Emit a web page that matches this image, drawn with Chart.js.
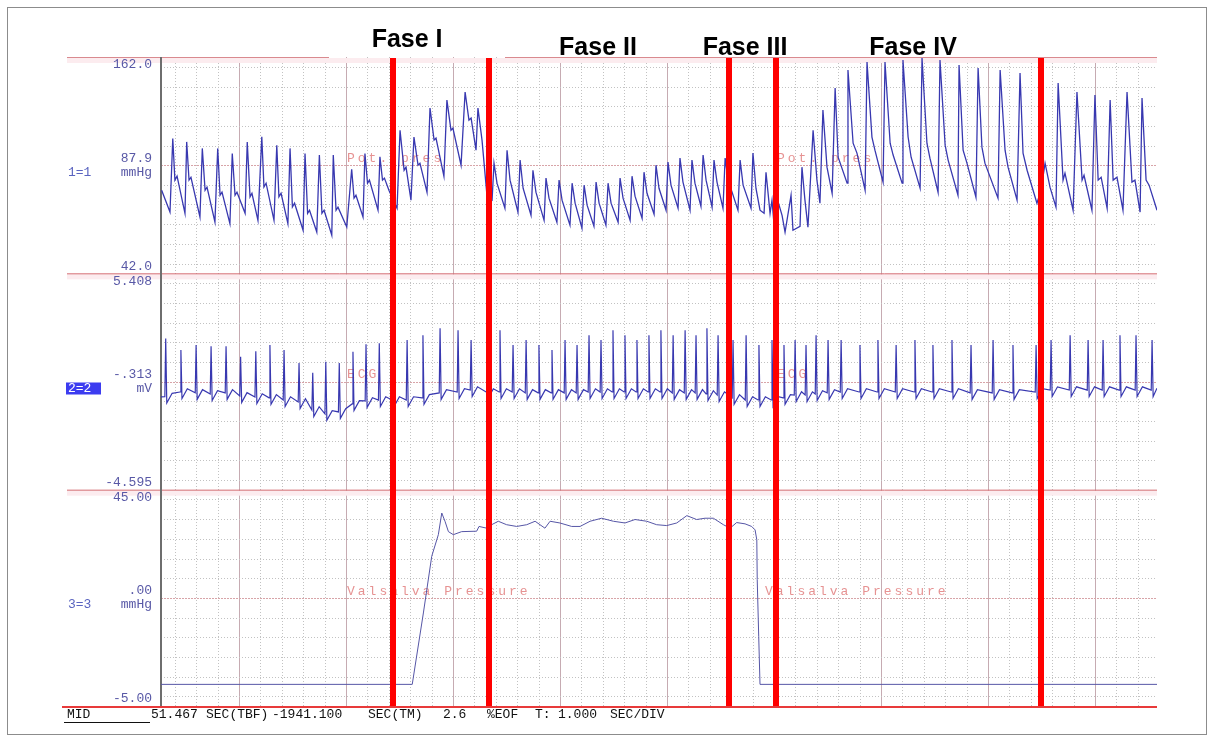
<!DOCTYPE html>
<html>
<head>
<meta charset="utf-8">
<script src="https://cdn.jsdelivr.net/npm/chart.js@4.4.1/dist/chart.umd.min.js"></script>
<style>
  html, body { margin: 0; background: #fff; }
  #wrap { position: relative; width: 1214px; height: 742px; }
</style>
</head>
<body>
<div id="wrap"><canvas id="rec" width="1214" height="742"></canvas></div>
<script>
// time axis: seconds, 1 s per division
const xMax = 46.54;
const gridStart = 3.645;   // first heavy division line

const phaseT = [10.84, 15.33, 26.54, 28.74, 41.12];
const phaseNames = ['Fase I', 'Fase II', 'Fase III', 'Fase IV'];
const phaseLabelT = [11.5, 20.42, 27.29, 35.14];

// channel ranges [min, max] and the value printed at channel middle
const abpRange = [42.0, 162.0];
const ecgRange = [-4.595, 5.408];
const valRange = [-5.00, 45.00];
const midLabels = ['87.9', '-.313', '.00'];
const units = ['mmHg', 'mV', 'mmHg'];
const chanIds = ['1=1', '2=2', '3=3'];

// channel 1: arterial pressure, [s, mmHg]
const abpTrace = [
  [0.03,88.1],[0.42,76.0],[0.55,116.8],[0.65,93.7],[0.75,95.9],[1.12,75.3],
  [1.20,114.9],[1.31,93.7],[1.40,95.3],[1.82,73.3],
  [1.93,111.3],[2.06,88.1],[2.15,89.8],[2.52,70.5],
  [2.65,111.3],[2.76,85.3],[2.85,87.0],[3.22,69.6],
  [3.33,108.5],[3.46,85.3],[3.55,87.0],[3.93,75.3],
  [4.03,114.9],[4.16,84.4],[4.25,86.4],[4.53,71.4],
  [4.71,117.7],[4.81,89.9],[4.91,92.0],[5.28,71.4],
  [5.41,113.1],[5.51,84.4],[5.61,86.4],[5.93,69.6],
  [6.03,111.3],[6.14,78.8],[6.24,80.9],[6.64,65.9],
  [6.73,108.5],[6.85,75.3],[6.94,77.0],[7.28,64.9],
  [7.40,107.6],[7.52,75.3],[7.62,77.0],[7.98,63.1],
  [8.05,107.6],[8.18,77.0],[8.27,78.7],[8.68,67.7],
  [8.91,99.7],[9.02,83.7],[9.11,85.3],[9.44,73.3],
  [9.53,108.5],[9.65,92.0],[9.74,93.7],[10.14,77.0],
  [10.23,106.6],[10.35,93.7],[10.44,94.8],[10.65,88.1],
  // phase I
  [11.03,78.1],[11.17,121.4],[11.36,99.2],[11.45,100.9],[11.68,82.6],
  [11.82,117.6],[12.01,102.0],[12.10,103.1],[12.43,87.0],
  [12.57,133.7],[12.76,115.9],[12.85,117.0],[13.22,95.9],
  [13.36,138.1],[13.55,121.4],[13.64,122.6],[14.02,102.0],
  [14.21,142.6],[14.39,127.0],[14.49,128.1],[14.72,110.3],
  [14.81,133.7],[15.00,115.9],[15.23,85.3],[15.33,83.7],
  // phase II
  [15.47,82.6],[15.56,103.1],[15.70,92.0],
  [16.07,78.1],[16.17,110.3],[16.31,93.7],
  [16.68,75.9],[16.78,104.8],[16.92,89.2],
  [17.29,74.2],[17.38,99.2],[17.52,87.0],
  [17.90,71.4],[17.99,94.8],[18.13,83.7],
  [18.50,70.3],[18.60,93.7],[18.74,82.6],
  [19.11,68.7],[19.21,92.0],[19.35,80.9],
  [19.67,67.0],[19.77,90.9],[19.91,79.8],
  [20.23,68.1],[20.33,92.6],[20.47,80.9],
  [20.79,68.7],[20.89,92.0],[21.03,80.9],
  [21.36,70.3],[21.45,94.8],[21.59,83.7],
  [21.92,71.4],[22.01,95.9],[22.15,84.8],
  [22.48,72.5],[22.57,98.1],[22.71,86.4],
  [23.04,74.8],[23.13,102.0],[23.27,89.2],
  [23.60,77.0],[23.69,103.7],[23.83,90.9],
  [24.16,78.1],[24.25,105.9],[24.39,92.6],
  [24.72,77.0],[24.81,104.8],[24.95,92.0],
  [25.23,79.2],[25.33,107.6],[25.47,93.7],
  [25.75,78.7],[25.84,104.8],[25.98,92.6],
  [26.26,78.1],[26.36,105.9],[26.50,93.7],
  // phase III
  [26.96,77.0],[27.06,104.8],[27.20,90.9],
  [27.57,78.1],[27.66,108.7],[27.80,89.2],[27.99,77.0],
  [28.18,75.3],[28.27,98.1],[28.46,75.3],[28.55,82.6],[28.64,69.8],
  [28.88,79.8],[29.02,74.2],[29.16,64.8],[29.44,85.3],[29.53,65.9],[29.86,68.1],
  // phase IV
  [29.95,100.9],[30.09,82.6],[30.23,67.6],
  [30.47,121.4],[30.65,93.7],[30.79,80.9],
  [30.93,132.6],[31.12,100.9],[31.36,86.4],
  [31.50,144.8],[31.64,106.4],[32.06,92.0],
  [32.10,154.8],[32.34,114.2],[32.52,108.7],[32.90,88.1],
  [32.99,159.2],[33.22,117.6],[33.36,110.3],[33.74,92.6],
  [33.83,159.2],[34.07,114.2],[34.21,107.6],[34.63,92.0],
  [34.67,160.3],[34.91,117.6],[35.05,106.4],[35.47,89.2],
  [35.56,161.4],[35.79,114.2],[35.93,105.9],[36.31,87.0],
  [36.40,160.3],[36.64,113.1],[36.78,104.8],[37.24,85.3],
  [37.29,157.6],[37.48,110.3],[37.66,103.1],[38.08,84.2],
  [38.18,155.9],[38.36,112.0],[38.50,103.1],[39.11,83.7],
  [39.21,154.8],[39.44,110.3],[39.58,100.9],[40.00,82.6],
  [40.14,153.1],[40.28,108.7],[40.47,99.2],[40.93,80.9],
  // recovery
  [41.12,88.1],[41.31,103.1],[41.54,89.8],[41.82,78.7],
  [41.92,147.6],[42.15,93.7],[42.24,97.6],[42.62,77.0],
  [42.80,142.6],[43.04,93.7],[43.13,96.4],[43.50,77.0],
  [43.64,140.9],[43.79,93.7],[43.93,95.3],[44.21,78.1],
  [44.35,138.1],[44.49,93.7],[44.67,95.3],[44.95,77.0],
  [45.14,142.6],[45.37,92.6],[45.51,93.7],[45.75,75.9],
  [45.84,139.2],[46.03,93.7],[46.17,90.9],[46.54,77.0]
];

// channel 2: ECG, [s, mV]
const ecgTrace = [
  [0.00,-0.30],[0.18,-0.29],[0.22,2.40],[0.27,-0.59],[0.52,-0.14],
  [0.89,-0.08],[0.93,1.86],[0.98,-0.38],[1.23,0.07],
  [1.60,-0.12],[1.64,2.09],[1.69,-0.42],[1.94,0.03],
  [2.30,-0.17],[2.34,2.04],[2.39,-0.47],[2.64,-0.02],
  [3.00,-0.12],[3.04,2.04],[3.09,-0.42],[3.34,0.03],
  [3.68,-0.26],[3.72,1.55],[3.77,-0.56],[4.02,-0.11],
  [4.39,-0.31],[4.43,1.81],[4.48,-0.61],[4.73,-0.16],
  [5.05,-0.35],[5.09,2.09],[5.14,-0.65],[5.39,-0.20],
  [5.71,-0.45],[5.75,1.86],[5.80,-0.75],[6.05,-0.30],
  [6.41,-0.54],[6.45,1.26],[6.50,-0.84],[6.75,-0.39],
  [7.05,-0.91],[7.09,0.81],[7.14,-1.21],[7.39,-0.76],
  [7.66,-1.09],[7.70,1.32],[7.75,-1.39],[8.00,-0.94],
  [8.29,-1.00],[8.33,1.26],[8.38,-1.30],[8.63,-0.85],
  [8.93,-0.63],[8.97,1.78],[9.02,-0.93],[9.27,-0.48],
  [9.54,-0.49],[9.58,2.13],[9.63,-0.79],[9.88,-0.34],
  [10.16,-0.45],[10.20,2.18],[10.25,-0.75],[10.50,-0.30],
  // phase I
  [10.80,-0.45],[10.84,2.20],[10.89,-0.75],[11.14,-0.30],
  [11.46,-0.45],[11.50,2.32],[11.55,-0.75],[11.80,-0.30],
  [12.20,-0.35],[12.24,2.55],[12.29,-0.65],[12.54,-0.20],
  [13.00,-0.12],[13.04,2.87],[13.09,-0.42],[13.34,0.03],
  [13.84,-0.08],[13.88,2.78],[13.93,-0.38],[14.18,0.07],
  [14.45,0.01],[14.49,2.32],[14.54,-0.29],[14.79,0.16],
  // phase II
  [15.19,-0.08],[15.23,2.09],[15.28,-0.38],[15.53,0.07],
  [15.80,-0.08],[15.84,2.78],[15.89,-0.38],[16.14,0.07],
  [16.41,-0.08],[16.45,2.09],[16.50,-0.38],[16.75,0.07],
  [17.02,-0.12],[17.06,2.32],[17.11,-0.42],[17.36,0.03],
  [17.62,-0.12],[17.66,2.09],[17.71,-0.42],[17.96,0.03],
  [18.23,-0.12],[18.27,1.86],[18.32,-0.42],[18.57,0.03],
  [18.84,-0.12],[18.88,2.32],[18.93,-0.42],[19.18,0.03],
  [19.40,-0.12],[19.44,2.09],[19.49,-0.42],[19.74,0.03],
  [19.96,-0.08],[20.00,2.55],[20.05,-0.38],[20.30,0.07],
  [20.52,-0.08],[20.56,2.32],[20.61,-0.38],[20.86,0.07],
  [21.08,-0.08],[21.12,2.78],[21.17,-0.38],[21.42,0.07],
  [21.64,-0.08],[21.68,2.55],[21.73,-0.38],[21.98,0.07],
  [22.20,-0.08],[22.24,2.32],[22.29,-0.38],[22.54,0.07],
  [22.76,-0.08],[22.80,2.55],[22.85,-0.38],[23.10,0.07],
  [23.32,-0.08],[23.36,2.78],[23.41,-0.38],[23.66,0.07],
  [23.89,-0.12],[23.93,2.55],[23.98,-0.42],[24.23,0.03],
  [24.45,-0.12],[24.49,2.78],[24.54,-0.42],[24.79,0.03],
  [24.96,-0.12],[25.00,2.55],[25.05,-0.42],[25.30,0.03],
  [25.47,-0.17],[25.51,2.87],[25.56,-0.47],[25.81,-0.02],
  [25.99,-0.22],[26.03,2.55],[26.08,-0.52],[26.33,-0.07],
  // phase III
  [26.69,-0.35],[26.73,2.32],[26.78,-0.65],[27.03,-0.20],
  [27.30,-0.45],[27.34,2.55],[27.39,-0.75],[27.64,-0.30],
  [27.90,-0.45],[27.94,2.09],[27.99,-0.75],[28.24,-0.30],
  [28.51,-0.45],[28.55,2.32],[28.60,-0.75],[28.85,-0.30],
  [29.07,-0.35],[29.11,2.09],[29.16,-0.65],[29.41,-0.20],
  // phase IV
  [29.59,-0.22],[29.63,2.32],[29.68,-0.52],[29.93,-0.07],
  [30.10,-0.22],[30.14,2.09],[30.19,-0.52],[30.44,-0.07],
  [30.57,-0.17],[30.61,2.55],[30.66,-0.47],[30.91,-0.02],
  [31.13,-0.12],[31.17,2.32],[31.22,-0.42],[31.47,0.03],
  [31.74,-0.08],[31.78,2.32],[31.83,-0.38],[32.08,0.07],
  [32.62,-0.08],[32.66,2.09],[32.71,-0.38],[32.96,0.07],
  [33.46,-0.08],[33.50,2.32],[33.55,-0.38],[33.80,0.07],
  [34.31,-0.08],[34.35,2.09],[34.40,-0.38],[34.65,0.07],
  [35.19,-0.08],[35.23,2.32],[35.28,-0.38],[35.53,0.07],
  [36.03,-0.08],[36.07,2.09],[36.12,-0.38],[36.37,0.07],
  [36.92,-0.08],[36.96,2.32],[37.01,-0.38],[37.26,0.07],
  [37.81,-0.12],[37.85,2.09],[37.90,-0.42],[38.15,0.03],
  [38.84,-0.12],[38.88,2.32],[38.93,-0.42],[39.18,0.03],
  [39.77,-0.12],[39.81,2.09],[39.86,-0.42],[40.11,0.03],
  // recovery
  [40.85,-0.08],[40.89,2.09],[40.94,-0.38],[41.19,0.07],
  [41.55,0.01],[41.59,2.32],[41.64,-0.29],[41.89,0.16],
  [42.44,0.01],[42.48,2.55],[42.53,-0.29],[42.78,0.16],
  [43.28,0.01],[43.32,2.32],[43.37,-0.29],[43.62,0.16],
  [43.98,0.01],[44.02,2.32],[44.07,-0.29],[44.32,0.16],
  [44.77,0.01],[44.81,2.55],[44.86,-0.29],[45.11,0.16],
  [45.52,0.01],[45.56,2.55],[45.61,-0.29],[45.86,0.16],
  [46.27,0.01],[46.31,2.32],[46.36,-0.29],[46.54,0.10]
];

// channel 3: Valsalva (expiratory) pressure, [s, mmHg]
const valTrace = [
  [0,0],[11.74,0],[12.26,16.5],[12.65,29.6],[12.96,34.6],[13.12,39.6],[13.27,37.7],
  [13.43,35.3],[13.66,34.6],[14.05,35.3],[14.75,35.4],[14.86,36.5],[15.22,36.1],
  [15.45,36.9],[15.76,37.7],[16.15,36.9],[16.62,36.5],[17.09,36.9],[17.48,37.7],
  [17.94,36.1],[18.18,37.7],[18.64,37.3],[19.19,36.5],[19.58,36.5],[20.05,37.7],
  [20.59,38.4],[21.14,37.7],[21.68,37.3],[22.15,38.1],[22.70,37.7],[23.16,36.9],
  [23.63,36.7],[24.10,37.3],[24.57,39.0],[25.03,38.1],[25.42,38.4],[25.81,38.4],
  [26.28,36.9],[26.59,36.1],[26.90,37.4],[27.29,37.1],[27.60,36.5],[27.76,35.7],
  [27.84,33.4],[27.86,24.2],[27.93,11.0],[27.99,0],[46.54,0]
];

const mono = '"Liberation Mono", "DejaVu Sans Mono", monospace';

function hLine(ctx, x1, x2, y) {
  ctx.beginPath(); ctx.moveTo(x1, y); ctx.lineTo(x2, y); ctx.stroke();
}
function vLine(ctx, x, y1, y2) {
  ctx.beginPath(); ctx.moveTo(x, y1); ctx.lineTo(x, y2); ctx.stroke();
}

const recorder = {
  id: 'recorder',
  beforeDatasetsDraw(chart) {
    const { ctx, chartArea: a, scales } = chart;
    const xs = scales.x;
    ctx.save();
    ctx.lineWidth = 1;
    // vertical divisions
    for (let k = -3; gridStart + k <= xMax; k++) {
      const t = gridStart + k;
      if (t <= 0) continue;
      const px = Math.round(xs.getPixelForValue(t)) + 0.5;
      const major = ((k % 5) + 5) % 5 === 0;
      ctx.strokeStyle = major ? '#c6abb2' : '#c2c2c2';
      ctx.setLineDash(major ? [] : [1, 2]);
      vLine(ctx, px, a.top, a.bottom);
    }
    // horizontal divisions per channel
    ['p', 'e', 'v'].forEach(id => {
      const s = scales[id];
      const mid = (s.min + s.max) / 2, step = (s.max - s.min) / 11;
      for (let k = -5; k <= 5; k++) {
        const py = Math.round(s.getPixelForValue(mid + k * step)) + 0.5;
        if (k === 0) {
          ctx.strokeStyle = '#d8a4a8';
          ctx.setLineDash([2, 1]);
        } else {
          ctx.strokeStyle = '#c2c2c2';
          ctx.setLineDash([1, 2]);
        }
        hLine(ctx, a.left, a.right, py);
      }
    });
    ctx.setLineDash([]);
    // channel borders
    const sp = scales.p, se = scales.e, sv = scales.v;
    ctx.fillStyle = '#fcecef';
    [sp.top, se.top, sv.top].forEach(y => ctx.fillRect(67, y + 1, a.right - 67, 5));
    ctx.strokeStyle = '#d98a8f';
    hLine(ctx, 67, 329, sp.top + 0.5);
    hLine(ctx, 505, a.right, sp.top + 0.5);
    ctx.strokeStyle = '#d46a70';
    hLine(ctx, 67, a.right, se.top + 0.5);
    hLine(ctx, 67, a.right, sv.top + 0.5);
    ctx.strokeStyle = '#e83a3a';
    ctx.lineWidth = 2;
    hLine(ctx, 62, a.right, sv.bottom + 1);
    // left axis
    ctx.strokeStyle = '#6e6e6e';
    vLine(ctx, a.left, a.top, a.bottom);
    ctx.restore();

    // pale channel captions
    ctx.save();
    ctx.font = '13px ' + mono;
    ctx.letterSpacing = '3px';
    ctx.fillStyle = 'rgba(222,110,110,0.75)';
    ctx.textBaseline = 'middle';
    const cap = [['Pot. pres', sp], ['ECG', se], ['Valsalva Pressure', sv]];
    cap.forEach(([txt, s], i) => {
      const y = (s.top + s.bottom) / 2 - (i === 2 ? 6 : 7);
      ctx.fillText(txt, 347, y);
      ctx.fillText(txt, i === 2 ? 765 : 777, y);
    });
    ctx.restore();
  },
  afterDatasetsDraw(chart) {
    const { ctx, chartArea: a, scales } = chart;
    ctx.save();
    ctx.fillStyle = '#ff0000';
    phaseT.forEach(t => {
      const px = scales.x.getPixelForValue(t);
      ctx.fillRect(Math.round(px) - 3, a.top + 1, 6, a.bottom - a.top - 1);
    });
    ctx.restore();
  },
  afterDraw(chart) {
    const { ctx, chartArea: a, scales } = chart;
    ctx.save();
    // frame
    ctx.strokeStyle = '#8c8c8c';
    ctx.lineWidth = 1;
    ctx.strokeRect(7.5, 7.5, 1199, 727);

    // phase titles
    ctx.fillStyle = '#000';
    ctx.font = 'bold 25px "Liberation Sans", Arial, sans-serif';
    ctx.textAlign = 'center';
    ctx.textBaseline = 'alphabetic';
    phaseNames.forEach((n, i) => {
      const px = scales.x.getPixelForValue(phaseLabelT[i]);
      ctx.fillText(n, px, i === 0 ? 47 : 55);
    });

    // channel labels on the left
    ctx.font = '13px ' + mono;
    ctx.textBaseline = 'middle';
    const chans = [scales.p, scales.e, scales.v];
    const ranges = [abpRange, ecgRange, valRange];
    const fmt = [v => v.toFixed(1), v => v.toFixed(3), v => v.toFixed(2)];
    chans.forEach((s, i) => {
      const mid = (s.top + s.bottom) / 2;
      ctx.fillStyle = '#5858a6';
      ctx.textAlign = 'right';
      ctx.fillText(fmt[i](ranges[i][1]), 152, s.top + 8);
      ctx.fillText(fmt[i](ranges[i][0]), 152, s.bottom - 7);
      ctx.fillText(midLabels[i], 152, mid - 7);
      ctx.fillText(units[i], 152, mid + 7);
      ctx.textAlign = 'left';
      if (i === 1) {
        ctx.fillStyle = '#3c3cf0';
        ctx.fillRect(66, mid + 1, 35, 12);
        ctx.fillStyle = '#ffffff';
      } else {
        ctx.fillStyle = '#5a64c0';
      }
      ctx.fillText(chanIds[i], 68, mid + 7);
    });

    // status line
    ctx.fillStyle = '#111';
    ctx.textAlign = 'left';
    const status = [['MID', 67], ['51.467', 151], ['SEC(TBF)', 206], ['-1941.100', 272],
      ['SEC(TM)', 368], ['2.6', 443], ['%EOF', 487], ['T:', 535], ['1.000', 558], ['SEC/DIV', 610]];
    status.forEach(([s, x]) => ctx.fillText(s, x, a.bottom + 9));
    ctx.strokeStyle = '#111';
    hLine(ctx, 64, 150, a.bottom + 16.5);
    ctx.restore();
  }
};

function lane(extra) {
  return Object.assign({
    type: 'linear', display: true, position: 'left', stack: 'rec', stackWeight: 1,
    grid: { display: false, drawTicks: false },
    ticks: { display: false },
    border: { display: false }
  }, extra);
}

function trace(data, axis, color, width) {
  return {
    data, yAxisID: axis, borderColor: color, borderWidth: width,
    pointRadius: 0, tension: 0, fill: false
  };
}

new Chart(document.getElementById('rec'), {
  type: 'line',
  data: {
    datasets: [
      trace(abpTrace, 'p', '#3838b0', 1.3),
      trace(ecgTrace, 'e', '#3838b0', 1.2),
      trace(valTrace, 'v', '#5656a6', 1)
    ]
  },
  options: {
    responsive: false,
    animation: false,
    events: [],
    layout: { padding: { left: 161, right: 57, top: 57, bottom: 36 } },
    plugins: { legend: { display: false }, tooltip: { enabled: false } },
    scales: {
      x: { type: 'linear', min: 0, max: xMax, display: true,
           grid: { display: false, drawTicks: false }, ticks: { display: false }, border: { display: false } },
      p: lane({ min: abpRange[0], max: abpRange[1], weight: 3 }),
      e: lane({ min: ecgRange[0], max: ecgRange[1], weight: 2 }),
      v: lane({ min: valRange[0], max: valRange[1], weight: 1 })
    }
  },
  plugins: [recorder]
});
</script>
</body>
</html>
